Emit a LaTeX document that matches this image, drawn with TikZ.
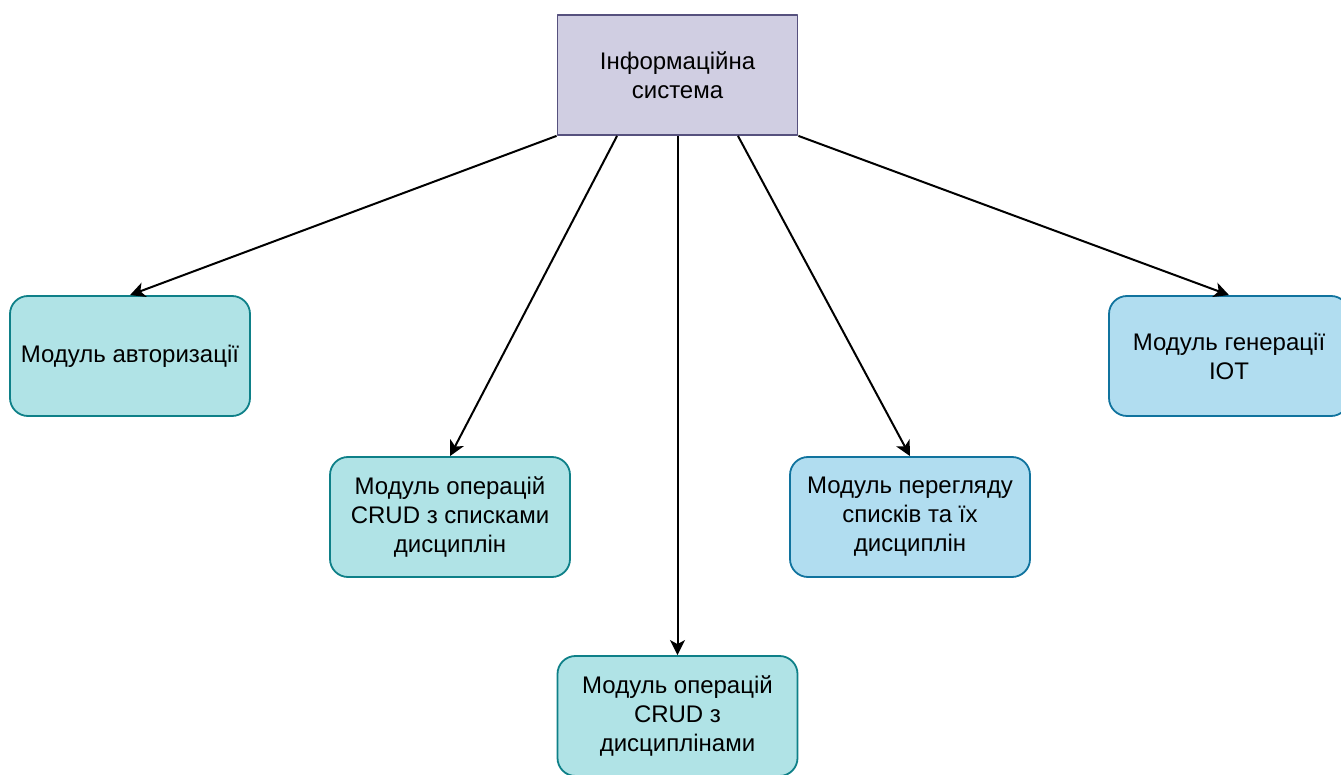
\documentclass[tikz,border=0pt]{standalone}
\usepackage{fontspec}
\setmainfont{Liberation Sans}
\usepackage{tikz}
\usetikzlibrary{arrows.meta,calc}
\definecolor{lilacfill}{RGB}{208,206,226}
\definecolor{lilacline}{RGB}{86,81,126}
\definecolor{tealfill}{RGB}{176,227,230}
\definecolor{tealline}{RGB}{14,128,136}
\definecolor{skyfill}{RGB}{177,221,240}
\definecolor{skyline}{RGB}{16,115,158}

\begin{document}
\begin{tikzpicture}[x=1pt,y=1pt,line join=round,
  box/.style={draw,line width=1.8pt,minimum width=240pt,minimum height=120pt,
    align=center,inner sep=0pt,font=\fontsize{24}{29}\selectfont},
  module/.style={box,rounded corners=18pt},
  link/.style={line width=2pt,-{Stealth[length=15pt,width=15pt,inset=4pt]}}]
  \useasboundingbox (0,0) rectangle (1341,774);
  % the system on top
  \node[box,fill=lilacfill,draw=lilacline] (sys) at (677.5,699) {Інформаційна\\система};
  % the modules below it
  \node[module,fill=tealfill,draw=tealline] (auth) at (130,418) {Модуль авторизації};
  \node[module,fill=tealfill,draw=tealline] (crudlist) at (450,257) {Модуль операцій\\CRUD з списками\\дисциплін};
  \node[module,fill=tealfill,draw=tealline] (cruddisc) at (677.5,58) {Модуль операцій\\CRUD з\\дисциплінами};
  \node[module,fill=skyfill,draw=skyline] (view) at (910,257) {Модуль перегляду\\списків та їх\\дисциплін};
  \node[module,fill=skyfill,draw=skyline] (iot) at (1229,418) {Модуль генерації\\IOT};
  % arrows from the bottom edge of the system
  \draw[link] (sys.south west) -- (auth.north);
  \draw[link] ($(sys.south west)!0.25!(sys.south east)$) -- (crudlist.north);
  \draw[link] (sys.south) -- (cruddisc.north);
  \draw[link] ($(sys.south west)!0.75!(sys.south east)$) -- (view.north);
  \draw[link] (sys.south east) -- (iot.north);
\end{tikzpicture}
\end{document}
